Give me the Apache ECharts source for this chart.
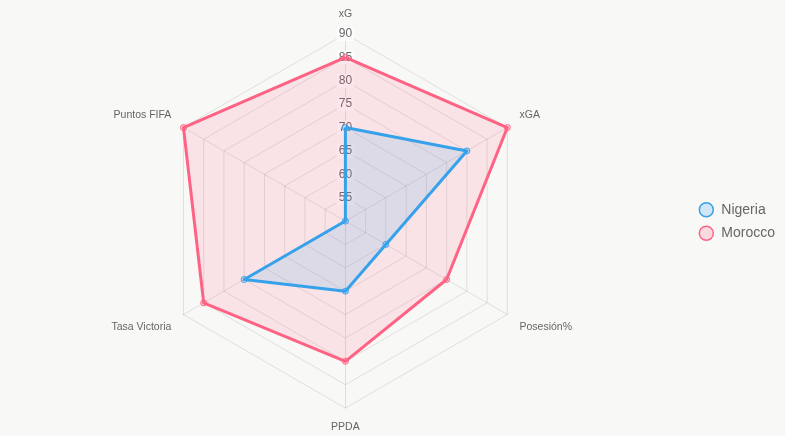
<!DOCTYPE html>
<html>
<head>
<meta charset="utf-8">
<script src="https://cdn.jsdelivr.net/npm/echarts@6/dist/echarts.min.js"></script>
<style>
  html, body { margin: 0; padding: 0; background: #f8f8f7; }
  #chart { width: 785px; height: 436px; }
</style>
</head>
<body>
<div id="chart"></div>
<script>
// radar axes, clockwise from the top
const indicators = ['xG', 'xGA', 'Posesión%', 'PPDA', 'Tasa Victoria', 'Puntos FIFA']
const scaleMin = 50
const scaleMax = 90

const teams = ['Nigeria', 'Morocco']
const nigeria = [70, 80, 60, 65, 75, 50]
const morocco = [85, 90, 75, 80, 85, 90]

const lineColors = { Nigeria: '#36a2eb', Morocco: '#ff6384' }
const fillColors = { Nigeria: 'rgba(54,162,235,0.2)', Morocco: 'rgba(255,99,132,0.2)' }
const font = 'Liberation Sans, Arial, sans-serif'

// echarts lays radar axes out counter-clockwise, so flip the order (keep the top one first)
const order = [0, 5, 4, 3, 2, 1]
const reorder = arr => order.map(i => arr[i])

// upper labels sit above their point, lower ones below (like chart.js)
const nameAlign = ['bottom', 'bottom', 'top', 'top', 'top', 'bottom']

const chart = echarts.init(document.getElementById('chart'))

function makeSeries(name, values) {
  return {
    type: 'radar',
    name: name,
    symbol: 'circle',
    symbolSize: 6,
    data: [{ name: name, value: reorder(values) }],
    lineStyle: { color: lineColors[name], width: 3 },
    areaStyle: { color: fillColors[name] },
    itemStyle: { color: fillColors[name], borderColor: lineColors[name], borderWidth: 1 }
  }
}

chart.setOption({
  backgroundColor: '#f8f8f7',
  animation: false,
  legend: {
    data: teams.map(t => ({
      name: t,
      itemStyle: { color: fillColors[t], borderColor: lineColors[t], borderWidth: 1.5 }
    })),
    orient: 'vertical',
    right: 5,
    top: 197,
    icon: 'circle',
    itemWidth: 14,
    itemHeight: 14,
    itemGap: 8,
    textStyle: { color: '#666', fontSize: 14, fontFamily: font, padding: [0, 0, 0, 3] }
  },
  radar: {
    center: ['44%', '50.7%'],
    radius: 187,
    shape: 'polygon',
    splitNumber: 8,
    nameGap: 14,
    axisName: { color: '#666', fontSize: 10.5, fontFamily: font },
    axisLine: { lineStyle: { color: 'rgba(0,0,0,0.1)' } },
    splitLine: { lineStyle: { color: 'rgba(0,0,0,0.1)' } },
    splitArea: { show: false },
    axisLabel: { show: false },
    indicator: reorder(indicators.map((name, i) => {
      const ind = {
        name: name, min: scaleMin, max: scaleMax,
        nameTextStyle: { verticalAlign: nameAlign[i] }
      }
      if (i === 0) {
        ind.axisLabel = {
          show: true,
          showMinLabel: false,
          align: 'center',
          verticalAlign: 'middle',
          margin: 0,
          color: '#666',
          fontSize: 12,
          fontFamily: font,
          backgroundColor: 'rgba(255,255,255,0.75)',
          padding: [1, 2]
        }
      }
      return ind
    }))
  },
  series: [makeSeries('Morocco', morocco), makeSeries('Nigeria', nigeria)]
})
</script>
</body>
</html>
